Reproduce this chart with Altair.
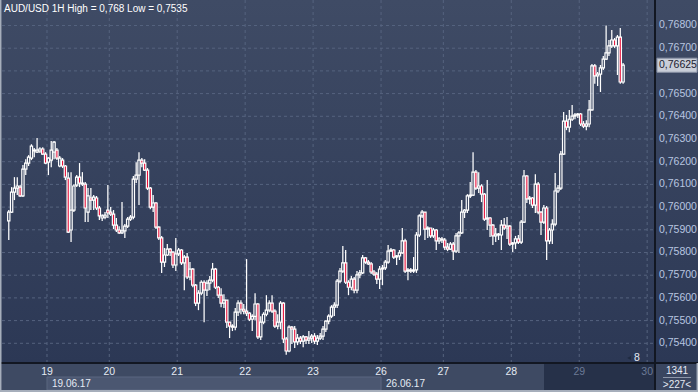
import altair as alt
import pandas as pd
import numpy as np

title_text = ["AUD/USD 1H High = 0,768 Low = 0,7535"]

opens = [
    0.75939, 0.75978, 0.76066, 0.76084, 0.76088, 0.76049, 0.76167, 0.76194, 0.76216, 0.76247,
    0.76242, 0.76247, 0.76256, 0.76233, 0.76198, 0.76207, 0.76242, 0.76251, 0.76181, 0.76207,
    0.76181, 0.76128, 0.75899, 0.75987, 0.76097, 0.76132, 0.76106, 0.76101, 0.75978, 0.76040,
    0.76031, 0.76040, 0.75996, 0.75952, 0.75956, 0.75987, 0.75978, 0.75969, 0.75921, 0.75899,
    0.75886, 0.75895, 0.75916, 0.75947, 0.75956, 0.76123, 0.76141, 0.76207, 0.76194, 0.76163,
    0.76084, 0.76000, 0.76018, 0.75912, 0.75864, 0.75758, 0.75789, 0.75815, 0.75802, 0.75745,
    0.75794, 0.75811, 0.75754, 0.75780, 0.75692, 0.75727, 0.75656, 0.75577, 0.75621, 0.75669,
    0.75634, 0.75665, 0.75678, 0.75727, 0.75647, 0.75612, 0.75577, 0.75590, 0.75493, 0.75476,
    0.75471, 0.75537, 0.75577, 0.75550, 0.75542, 0.75533, 0.75506, 0.75519, 0.75573, 0.75428,
    0.75493, 0.75528, 0.75546, 0.75577, 0.75542, 0.75476, 0.75493, 0.75577, 0.75419, 0.75366,
    0.75471, 0.75462, 0.75406, 0.75423, 0.75410, 0.75428, 0.75414, 0.75423, 0.75432, 0.75410,
    0.75423, 0.75432, 0.75462, 0.75498, 0.75520, 0.75559, 0.75568, 0.75674, 0.75718, 0.75754,
    0.75669, 0.75647, 0.75683, 0.75634, 0.75701, 0.75710, 0.75776, 0.75758, 0.75750, 0.75714,
    0.75705, 0.75683, 0.75727, 0.75732, 0.75758, 0.75806, 0.75811, 0.75780, 0.75785, 0.75798,
    0.75851, 0.75718, 0.75723, 0.75718, 0.75723, 0.75877, 0.75961, 0.75978, 0.75903, 0.75908,
    0.75873, 0.75899, 0.75851, 0.75860, 0.75855, 0.75824, 0.75815, 0.75837, 0.75806, 0.75873,
    0.75886, 0.75978, 0.75987, 0.76049, 0.76053, 0.76154, 0.76084, 0.76093, 0.76057, 0.75947,
    0.75952, 0.75921, 0.75873, 0.75881, 0.75877, 0.75921, 0.75908, 0.75916, 0.75837, 0.75842,
    0.75860, 0.75846, 0.75934, 0.76137, 0.76036, 0.76040, 0.76009, 0.76101, 0.75978, 0.75934,
    0.75996, 0.75851, 0.75899, 0.75925, 0.76071, 0.76084, 0.76233, 0.76379, 0.76352, 0.76387,
    0.76401, 0.76406, 0.76410, 0.76366, 0.76357, 0.76366, 0.76428, 0.76622, 0.76578, 0.76586,
    0.76613, 0.76652, 0.76679, 0.76710, 0.76736, 0.76710, 0.76749, 0.76551,
]

highs = [
    0.75987, 0.76088, 0.76132, 0.76132, 0.76097, 0.76185, 0.76211, 0.76229, 0.76277, 0.76260,
    0.76304, 0.76264, 0.76264, 0.76242, 0.76220, 0.76291, 0.76291, 0.76260, 0.76225, 0.76216,
    0.76185, 0.76154, 0.76154, 0.76101, 0.76141, 0.76194, 0.76154, 0.76110, 0.76084, 0.76084,
    0.76053, 0.76049, 0.76005, 0.75969, 0.75978, 0.76097, 0.76000, 0.75987, 0.75952, 0.75916,
    0.76022, 0.75925, 0.75956, 0.75965, 0.76137, 0.76198, 0.76242, 0.76216, 0.76211, 0.76172,
    0.76088, 0.76053, 0.76022, 0.75916, 0.75873, 0.75820, 0.75837, 0.75820, 0.75806, 0.75864,
    0.75820, 0.75815, 0.75789, 0.75798, 0.75758, 0.75732, 0.75661, 0.75634, 0.75678, 0.75678,
    0.75678, 0.75696, 0.75754, 0.75732, 0.75652, 0.75643, 0.75616, 0.75590, 0.75493, 0.75484,
    0.75555, 0.75590, 0.75590, 0.75573, 0.75771, 0.75537, 0.75528, 0.75621, 0.75577, 0.75519,
    0.75537, 0.75612, 0.75590, 0.75612, 0.75550, 0.75528, 0.75586, 0.75581, 0.75428, 0.75480,
    0.75476, 0.75476, 0.75441, 0.75432, 0.75436, 0.75432, 0.75454, 0.75441, 0.75445, 0.75436,
    0.75445, 0.75476, 0.75502, 0.75528, 0.75568, 0.75581, 0.75683, 0.75732, 0.75829, 0.75811,
    0.75678, 0.75696, 0.75692, 0.75718, 0.75723, 0.75789, 0.75780, 0.75767, 0.75758, 0.75723,
    0.75714, 0.75741, 0.75745, 0.75767, 0.75833, 0.75820, 0.75815, 0.75789, 0.75811, 0.75908,
    0.75860, 0.75732, 0.75732, 0.75780, 0.75890, 0.75969, 0.75987, 0.75978, 0.75916, 0.75908,
    0.75908, 0.75903, 0.75868, 0.75868, 0.75864, 0.75842, 0.75846, 0.75846, 0.75886, 0.75895,
    0.76031, 0.75991, 0.76057, 0.76110, 0.76242, 0.76163, 0.76154, 0.76101, 0.76062, 0.76119,
    0.75956, 0.75925, 0.75908, 0.75886, 0.75943, 0.75952, 0.75956, 0.75921, 0.75846, 0.75873,
    0.75877, 0.75943, 0.76163, 0.76141, 0.76049, 0.76044, 0.76145, 0.76110, 0.75982, 0.76009,
    0.76005, 0.75908, 0.75947, 0.76150, 0.76097, 0.76247, 0.76419, 0.76406, 0.76428, 0.76450,
    0.76415, 0.76415, 0.76415, 0.76379, 0.76383, 0.76472, 0.76630, 0.76630, 0.76595, 0.76626,
    0.76666, 0.76800, 0.76736, 0.76780, 0.76745, 0.76758, 0.76789, 0.76635,
]

lows = [
    0.75855, 0.75974, 0.76031, 0.76053, 0.76044, 0.76044, 0.76141, 0.76181, 0.76207, 0.76220,
    0.76238, 0.76238, 0.76229, 0.76189, 0.76141, 0.76176, 0.76211, 0.76207, 0.76176, 0.76172,
    0.76119, 0.75886, 0.75846, 0.75978, 0.76088, 0.76088, 0.76093, 0.75934, 0.75934, 0.75987,
    0.75987, 0.75987, 0.75943, 0.75939, 0.75947, 0.75952, 0.75961, 0.75903, 0.75890, 0.75881,
    0.75881, 0.75864, 0.75908, 0.75939, 0.75947, 0.76106, 0.76009, 0.76176, 0.76159, 0.76075,
    0.75991, 0.75978, 0.75903, 0.75855, 0.75710, 0.75736, 0.75785, 0.75785, 0.75732, 0.75718,
    0.75785, 0.75745, 0.75634, 0.75683, 0.75678, 0.75647, 0.75564, 0.75546, 0.75612, 0.75493,
    0.75608, 0.75634, 0.75669, 0.75639, 0.75599, 0.75559, 0.75555, 0.75467, 0.75423, 0.75454,
    0.75458, 0.75520, 0.75528, 0.75528, 0.75520, 0.75498, 0.75454, 0.75502, 0.75419, 0.75414,
    0.75484, 0.75519, 0.75537, 0.75533, 0.75467, 0.75462, 0.75462, 0.75401, 0.75350, 0.75361,
    0.75397, 0.75379, 0.75392, 0.75397, 0.75383, 0.75397, 0.75397, 0.75401, 0.75397, 0.75392,
    0.75414, 0.75414, 0.75450, 0.75484, 0.75511, 0.75520, 0.75555, 0.75665, 0.75710, 0.75661,
    0.75612, 0.75634, 0.75621, 0.75621, 0.75687, 0.75705, 0.75750, 0.75745, 0.75705, 0.75696,
    0.75661, 0.75639, 0.75656, 0.75723, 0.75750, 0.75802, 0.75771, 0.75745, 0.75767, 0.75794,
    0.75710, 0.75678, 0.75710, 0.75710, 0.75710, 0.75868, 0.75952, 0.75855, 0.75864, 0.75864,
    0.75864, 0.75811, 0.75837, 0.75842, 0.75811, 0.75806, 0.75811, 0.75767, 0.75798, 0.75798,
    0.75881, 0.75952, 0.75974, 0.76040, 0.76049, 0.76075, 0.76062, 0.76022, 0.75939, 0.75899,
    0.75868, 0.75833, 0.75846, 0.75855, 0.75811, 0.75899, 0.75859, 0.75829, 0.75802, 0.75815,
    0.75837, 0.75837, 0.75930, 0.76018, 0.76013, 0.75996, 0.75974, 0.75969, 0.75877, 0.75925,
    0.75767, 0.75837, 0.75837, 0.75916, 0.76062, 0.76075, 0.76229, 0.76339, 0.76330, 0.76379,
    0.76387, 0.76392, 0.76357, 0.76348, 0.76339, 0.76352, 0.76424, 0.76543, 0.76534, 0.76507,
    0.76604, 0.76648, 0.76666, 0.76701, 0.76701, 0.76582, 0.76543, 0.76543,
]

closes = [
    0.75978, 0.76066, 0.76084, 0.76093, 0.76049, 0.76167, 0.76194, 0.76220, 0.76269, 0.76251,
    0.76251, 0.76256, 0.76233, 0.76194, 0.76216, 0.76251, 0.76286, 0.76216, 0.76216, 0.76181,
    0.76132, 0.75890, 0.75987, 0.76093, 0.76132, 0.76106, 0.76101, 0.75996, 0.76049, 0.76031,
    0.76044, 0.75996, 0.75961, 0.75961, 0.75965, 0.75974, 0.75969, 0.75921, 0.75899, 0.75886,
    0.75895, 0.75916, 0.75947, 0.75956, 0.76123, 0.76141, 0.76207, 0.76194, 0.76163, 0.76084,
    0.76000, 0.76018, 0.75912, 0.75864, 0.75758, 0.75789, 0.75815, 0.75802, 0.75745, 0.75794,
    0.75811, 0.75754, 0.75780, 0.75692, 0.75727, 0.75656, 0.75577, 0.75621, 0.75669, 0.75634,
    0.75665, 0.75678, 0.75727, 0.75647, 0.75612, 0.75577, 0.75590, 0.75493, 0.75476, 0.75471,
    0.75537, 0.75577, 0.75550, 0.75542, 0.75533, 0.75506, 0.75519, 0.75573, 0.75428, 0.75493,
    0.75528, 0.75546, 0.75577, 0.75542, 0.75476, 0.75493, 0.75577, 0.75419, 0.75366, 0.75471,
    0.75462, 0.75406, 0.75423, 0.75410, 0.75428, 0.75414, 0.75423, 0.75432, 0.75410, 0.75423,
    0.75432, 0.75462, 0.75498, 0.75520, 0.75559, 0.75568, 0.75674, 0.75718, 0.75754, 0.75669,
    0.75647, 0.75683, 0.75634, 0.75701, 0.75710, 0.75776, 0.75758, 0.75750, 0.75714, 0.75705,
    0.75683, 0.75727, 0.75732, 0.75758, 0.75806, 0.75811, 0.75780, 0.75785, 0.75798, 0.75851,
    0.75718, 0.75723, 0.75718, 0.75723, 0.75877, 0.75961, 0.75978, 0.75903, 0.75908, 0.75873,
    0.75899, 0.75851, 0.75860, 0.75855, 0.75824, 0.75815, 0.75837, 0.75806, 0.75873, 0.75886,
    0.75978, 0.75987, 0.76049, 0.76053, 0.76154, 0.76084, 0.76093, 0.76057, 0.75947, 0.75952,
    0.75921, 0.75873, 0.75881, 0.75877, 0.75921, 0.75908, 0.75916, 0.75837, 0.75842, 0.75860,
    0.75846, 0.75934, 0.76137, 0.76036, 0.76040, 0.76009, 0.76101, 0.75978, 0.75934, 0.75996,
    0.75851, 0.75899, 0.75925, 0.76071, 0.76084, 0.76233, 0.76379, 0.76352, 0.76387, 0.76401,
    0.76406, 0.76410, 0.76366, 0.76357, 0.76366, 0.76428, 0.76622, 0.76578, 0.76586, 0.76613,
    0.76652, 0.76679, 0.76710, 0.76736, 0.76710, 0.76749, 0.76551, 0.76625,
]

day_labels = ["19", "20", "21", "22", "23", "26", "27", "28", "29", "30"]
day_starts = [13.5, 35.5, 59.5, 83.5, 107.5, 131.5, 153.5, 177.5, 201.5, 225.5]
day_label_colors = ["#e4eaf4"] * 8 + ["#6c7a96", "#6c7a96"]
week_labels = ["19.06.17", "26.06.17"]
week_starts = [13.5, 131.5]
week_end = [131.5]
price_ticks = [0.754, 0.755, 0.756, 0.757, 0.758, 0.759, 0.760, 0.761,
               0.762, 0.763, 0.764, 0.765, 0.766, 0.767, 0.768]
last_price = [0.76625]
last_label = ["0,76625"]
corner_texts = ["1341", ">227<"]
marker_text = ["8"]

W, H = 653, 363
FONT = "Liberation Sans"
xs = alt.Scale(domain=[-0.626, 226.5], nice=False, zero=False)
ys = alt.Scale(domain=[0.753132, 0.769123], nice=False, zero=False)

n = len(opens)
df = pd.DataFrame({"i": np.arange(n), "o": opens, "h": highs, "l": lows, "c": closes})
df["top"] = df[["o", "c"]].max(axis=1)
df["bot"] = df[["o", "c"]].min(axis=1)
df["h"] = np.maximum(df["h"], df["top"])
df["l"] = np.minimum(df["l"], df["bot"])
df["bear"] = df["c"] < df["o"]

one = pd.DataFrame({"k": [0]})

bg = alt.Chart(one).mark_rect(
    color=alt.LinearGradient(
        gradient="linear",
        stops=[alt.GradientStop(color="#3f4b65", offset=0),
               alt.GradientStop(color="#2c3855", offset=1)],
        x1=0, x2=0, y1=0, y2=1,
    )
).encode(x=alt.value(0), x2=alt.value(696), y=alt.value(0), y2=alt.value(H))

strip = alt.Chart(one).mark_rect(color="#3e4a63").encode(
    x=alt.value(-2), x2=alt.value(696), y=alt.value(H), y2=alt.value(392))

dark_region = alt.Chart(one).mark_rect(color="#263149").encode(
    x=alt.value(542), x2=alt.value(W), y=alt.value(H), y2=alt.value(390))

wk = pd.DataFrame({"a": [week_starts[0]], "b": week_end})
week_box = alt.Chart(wk).mark_rect(color="#4b5771", stroke="#5b6781", strokeWidth=1).encode(
    x=alt.X("a:Q", scale=xs, axis=None), x2="b:Q",
    y=alt.value(377), y2=alt.value(390))

gdf = pd.DataFrame({"p": price_ticks})
gdf["lab"] = [f"{p:.5f}".replace(".", ",") for p in price_ticks]
hgrid = alt.Chart(gdf).mark_rule(color="#56637f", strokeDash=[3, 3], strokeWidth=1).encode(
    y=alt.Y("p:Q", scale=ys, axis=None),
    x=alt.value(0), x2=alt.value(W))

axis_df = gdf[(gdf["p"] - last_price[0]).abs() > 0.0005]
ylabels = alt.Chart(axis_df).mark_text(
    align="left", baseline="middle", color="#b8c6e0", font=FONT, fontSize=10.5).encode(
    x=alt.value(W + 4), y=alt.Y("p:Q", scale=ys, axis=None), text="lab:N")

ddf = pd.DataFrame({"d": day_starts, "lab": day_labels, "col": day_label_colors})
vgrid = alt.Chart(ddf).mark_rule(color="#56637f", strokeDash=[3, 3], strokeWidth=1).encode(
    x=alt.X("d:Q", scale=xs, axis=None), y=alt.value(0), y2=alt.value(H))

base = alt.Chart(df)
xenc = alt.X("i:Q", scale=xs, axis=None)
wick_up = base.mark_rule(color="white", strokeWidth=1.25).encode(
    x=xenc, y=alt.Y("h:Q", scale=ys, axis=None), y2="top:Q")
wick_dn = base.mark_rule(color="white", strokeWidth=1.25).encode(
    x=xenc, y=alt.Y("bot:Q", scale=ys, axis=None), y2="l:Q")
bodies = base.mark_bar(size=2.3, stroke="white", strokeWidth=1.2).encode(
    x=xenc, y=alt.Y("top:Q", scale=ys, axis=None), y2="bot:Q",
    fill=alt.condition("datum.bear", alt.value("#e8103a"), alt.value("transparent")))

hsep = alt.Chart(one).mark_rule(color="#121722", strokeWidth=2).encode(
    x=alt.value(-2), x2=alt.value(696), y=alt.value(H))
vsep = alt.Chart(one).mark_rule(color="#121722", strokeWidth=2).encode(
    x=alt.value(W), y=alt.value(0), y2=alt.value(390))

lp = pd.DataFrame({"p": last_price, "t": last_label})
lp["lo"] = lp["p"] - 0.00031
lp["hi"] = lp["p"] + 0.00031
price_box = alt.Chart(lp).mark_rect(color="#c9ced8", stroke="#8a93a6", strokeWidth=1).encode(
    x=alt.value(W + 2), x2=alt.value(W + 42),
    y=alt.Y("lo:Q", scale=ys, axis=None), y2="hi:Q")
price_txt = alt.Chart(lp).mark_text(align="left", baseline="middle", color="#1c2231",
                                    font=FONT, fontSize=10.5).encode(
    x=alt.value(W + 4), y=alt.Y("p:Q", scale=ys, axis=None), text="t:N")

title = alt.Chart(pd.DataFrame({"t": title_text})).mark_text(
    align="left", baseline="middle", color="white", font=FONT, fontSize=10).encode(
    x=alt.value(2), y=alt.value(8.5), text="t:N")

day_txt = alt.Chart(ddf).mark_text(align="center", baseline="middle", font=FONT,
                                   fontSize=10.5).encode(
    x=alt.X("d:Q", scale=xs, axis=None), y=alt.value(371.5), text="lab:N",
    color=alt.Color("col:N", scale=None))

wdf = pd.DataFrame({"d": week_starts, "lab": week_labels})
week_txt = alt.Chart(wdf).mark_text(align="left", baseline="middle", font=FONT,
                                    fontSize=10, color="#e4eaf4", dx=5).encode(
    x=alt.X("d:Q", scale=xs, axis=None), y=alt.value(383.5), text="lab:N")

corner_box = alt.Chart(one).mark_rect(color="#3a4660").encode(
    x=alt.value(W + 1), x2=alt.value(696), y=alt.value(H + 1), y2=alt.value(390))
cdf = pd.DataFrame({"t": corner_texts, "yy": [370.5, 384.5]})
corner_txt = alt.Chart(cdf).mark_text(align="center", baseline="middle", font=FONT,
                                      fontSize=10, color="#e4eaf4").encode(
    x=alt.value(675), y=alt.Y("yy:Q", scale=None), text="t:N")
corner_line = alt.Chart(one).mark_rule(color="#8d97aa", strokeWidth=1).encode(
    x=alt.value(661), x2=alt.value(689), y=alt.value(377.5))

marker = alt.Chart(pd.DataFrame({"t": marker_text})).mark_text(
    align="center", baseline="middle", font=FONT, fontSize=10.5, color="#e4eaf4").encode(
    x=alt.value(635), y=alt.value(357.5), text="t:N")
marker_tri = alt.Chart(one).mark_point(shape="triangle-left", filled=True, color="#1f2a40",
                                       size=18, opacity=1).encode(
    x=alt.value(627), y=alt.value(358))

frame_left = alt.Chart(one).mark_rule(color="#a6aebb", strokeWidth=1.5).encode(
    x=alt.value(-1.3), y=alt.value(0), y2=alt.value(392))
frame_bottom = alt.Chart(one).mark_rule(color="#a6aebb", strokeWidth=2).encode(
    x=alt.value(-2), x2=alt.value(696), y=alt.value(391))
frame_right = alt.Chart(one).mark_rule(color="#a6aebb", strokeWidth=1.5).encode(
    x=alt.value(695.3), y=alt.value(H), y2=alt.value(392))

chart = alt.layer(
    bg, strip, dark_region, week_box, hgrid, vgrid,
    wick_up, wick_dn, bodies,
    hsep, vsep, ylabels, price_box, price_txt, title, day_txt, week_txt,
    corner_box, corner_line, corner_txt, marker_tri, marker,
    frame_left, frame_bottom, frame_right,
).properties(
    width=W, height=H,
    padding={"left": 2, "top": 0, "right": 43, "bottom": 29},
    autosize=alt.AutoSizeParams(type="none"),
    background="#3d4963",
).configure_view(stroke=None)

chart.save("out.html", embed_options={"renderer": "svg", "actions": False})
